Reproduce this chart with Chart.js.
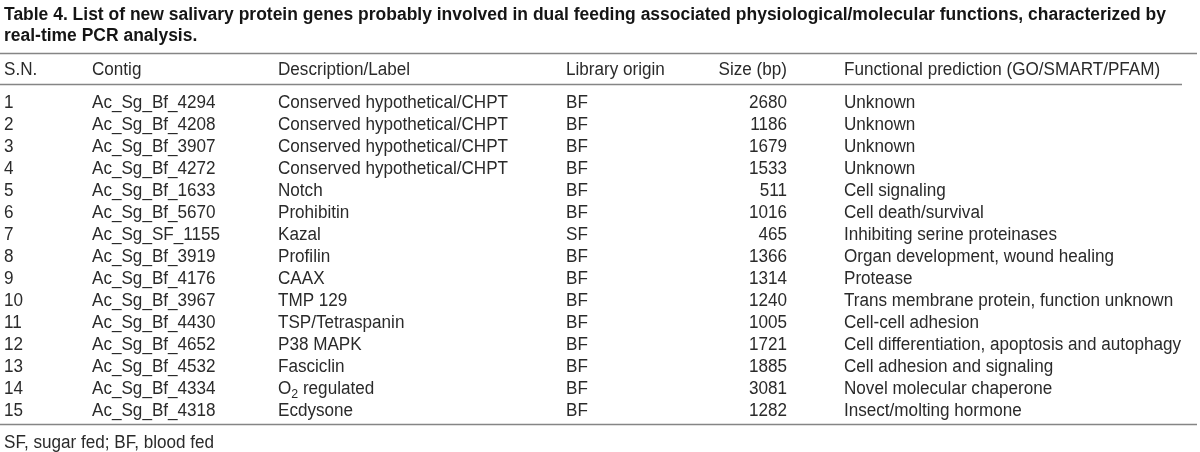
<!DOCTYPE html>
<html>
<head>
<meta charset="utf-8">
<script src="https://cdn.jsdelivr.net/npm/chart.js@4.4.1/dist/chart.umd.min.js"></script>
<style>
  html, body { margin: 0; padding: 0; background: #fff; }
  canvas { display: block; }
</style>
</head>
<body>
<canvas id="myChart" width="1200" height="452"></canvas>
<script>
const ctx = document.getElementById('myChart');

// table data
const titleLines = [
    'Table 4. List of new salivary protein genes probably involved in dual feeding associated physiological/molecular functions, characterized by',
    'real-time PCR analysis.'
];
const headers = ['S.N.', 'Contig', 'Description/Label', 'Library origin', 'Size (bp)', 'Functional prediction (GO/SMART/PFAM)'];
const serials = [1, 2, 3, 4, 5, 6, 7, 8, 9, 10, 11, 12, 13, 14, 15];
const contigs = ['Ac_Sg_Bf_4294', 'Ac_Sg_Bf_4208', 'Ac_Sg_Bf_3907', 'Ac_Sg_Bf_4272', 'Ac_Sg_Bf_1633',
    'Ac_Sg_Bf_5670', 'Ac_Sg_SF_1155', 'Ac_Sg_Bf_3919', 'Ac_Sg_Bf_4176', 'Ac_Sg_Bf_3967',
    'Ac_Sg_Bf_4430', 'Ac_Sg_Bf_4652', 'Ac_Sg_Bf_4532', 'Ac_Sg_Bf_4334', 'Ac_Sg_Bf_4318'];
const descriptions = ['Conserved hypothetical/CHPT', 'Conserved hypothetical/CHPT', 'Conserved hypothetical/CHPT',
    'Conserved hypothetical/CHPT', 'Notch', 'Prohibitin', 'Kazal', 'Profilin', 'CAAX', 'TMP 129',
    'TSP/Tetraspanin', 'P38 MAPK', 'Fasciclin', 'O₂ regulated', 'Ecdysone'];
const origins = ['BF', 'BF', 'BF', 'BF', 'BF', 'BF', 'SF', 'BF', 'BF', 'BF', 'BF', 'BF', 'BF', 'BF', 'BF'];
const sizes = [2680, 1186, 1679, 1533, 511, 1016, 465, 1366, 1314, 1240, 1005, 1721, 1885, 3081, 1282];
const functions = ['Unknown', 'Unknown', 'Unknown', 'Unknown', 'Cell signaling', 'Cell death/survival',
    'Inhibiting serine proteinases', 'Organ development, wound healing', 'Protease',
    'Trans membrane protein, function unknown', 'Cell-cell adhesion',
    'Cell differentiation, apoptosis and autophagy', 'Cell adhesion and signaling',
    'Novel molecular chaperone', 'Insect/molting hormone'];
const footnote = 'SF, sugar fed; BF, blood fed';

// layout (x in canvas units, y in row units: row i sits at value i)
const colX = [4, 92, 278, 566, 787, 844];
const colAlign = ['left', 'left', 'left', 'left', 'right', 'left'];
const headerRow = -0.52;
const titleRows = [-2.7, -1.73];
const topRule = -1.18;
const headRule = 0.23;
const bottomRule = 15.68;
const footRow = 16.45;

const bodyFont = '18px "Liberation Sans", Arial, sans-serif';
const boldFont = 'bold 18px "Liberation Sans", Arial, sans-serif';
const textSqueeze = 0.95;
const textColor = '#2a2a2a';
const ruleColor = '#858585';

const columns = [serials, contigs, descriptions, origins, sizes, functions];

var datasets = columns.map(function (vals, c) {
    return {
        label: headers[c],
        data: vals.map(function (v, i) { return { x: colX[c], y: i + 1, text: String(v) }; }),
        pointRadius: 0,
        pointHoverRadius: 0,
        showLine: false
    };
});

function drawText(c, text, x, y, align, sx) {
    c.save();
    c.translate(x, y);
    c.scale(sx, 1);
    c.textAlign = align;
    if (text.indexOf('₂') >= 0 && align === 'left') {
        var parts = text.split('₂');
        c.fillText(parts[0], 0, 0);
        var w = c.measureText(parts[0]).width;
        c.font = '13px "Liberation Sans", Arial, sans-serif';
        c.fillText('2', w, 4);
        var w2 = c.measureText('2').width;
        c.font = bodyFont;
        c.fillText(parts[1], w + w2, 0);
    } else {
        c.fillText(text, 0, 0);
    }
    c.restore();
}

const tablePlugin = {
    id: 'tableText',
    afterDatasetsDraw(chart) {
        var c = chart.ctx;
        var xs = chart.scales.x, ys = chart.scales.y;
        c.save();
        c.textBaseline = 'alphabetic';

        // title, squeezed to fit the width
        c.font = boldFont;
        c.fillStyle = '#151515';
        var full = c.measureText(titleLines[0]).width;
        var tsx = (xs.getPixelForValue(1166) - xs.getPixelForValue(4)) / full;
        titleLines.forEach(function (t, i) {
            drawText(c, t, xs.getPixelForValue(4), ys.getPixelForValue(titleRows[i]), 'left', tsx);
        });

        // rules
        c.strokeStyle = ruleColor;
        c.lineWidth = 1.5;
        function hline(v, x0, x1) {
            var py = Math.round(ys.getPixelForValue(v)) + 0.5;
            c.beginPath();
            c.moveTo(xs.getPixelForValue(x0), py);
            c.lineTo(xs.getPixelForValue(x1), py);
            c.stroke();
        }
        hline(topRule, 0, 1197);
        hline(headRule, 0, 1182);
        hline(bottomRule, 0, 1197);

        // header + cells
        c.font = bodyFont;
        c.fillStyle = textColor;
        headers.forEach(function (h, i) {
            drawText(c, h, xs.getPixelForValue(colX[i]), ys.getPixelForValue(headerRow) + 7, colAlign[i], textSqueeze);
        });
        chart.data.datasets.forEach(function (ds, i) {
            var meta = chart.getDatasetMeta(i);
            meta.data.forEach(function (pt, j) {
                drawText(c, ds.data[j].text, pt.x, pt.y + 7, colAlign[i], textSqueeze);
            });
        });

        drawText(c, footnote, xs.getPixelForValue(4), ys.getPixelForValue(footRow) + 7, 'left', textSqueeze);
        c.restore();
    }
};

new Chart(ctx, {
    type: 'scatter',
    data: { datasets: datasets },
    options: {
        responsive: false,
        animation: false,
        events: [],
        layout: { padding: 0 },
        plugins: { legend: { display: false }, tooltip: { enabled: false } },
        scales: {
            x: { type: 'linear', min: 0, max: 1200, display: false },
            y: { type: 'linear', reverse: true, min: -79 / 22, max: (452 - 79) / 22, display: false }
        }
    },
    plugins: [tablePlugin]
});
</script>
</body>
</html>
